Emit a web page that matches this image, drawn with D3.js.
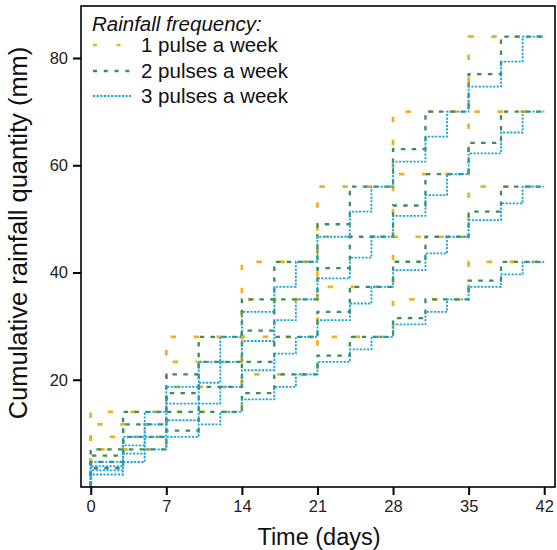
<!DOCTYPE html>
<html><head><meta charset="utf-8">
<script src="https://cdn.jsdelivr.net/npm/d3@7"></script>
<style>body{margin:0;background:#fff}svg{display:block;font-family:"Liberation Sans",Arial,sans-serif}</style>
</head><body><svg id="c" width="557" height="550"></svg>
<script>
// ---- data ----
const totals = [42, 56, 70, 84];
const frequencies = ["1 pulse a week", "2 pulses a week", "3 pulses a week"];
const pulseDays1 = [0, 7, 14, 21, 28, 35];
const pulseDays2 = [0, 3, 7, 10, 14, 17, 21, 24, 28, 31, 35, 38];
const pulseDays3 = [0, 3, 5, 7, 10, 12, 14, 17, 19, 21, 24, 26, 28, 31, 33, 35, 38, 40];
const pulseSize1 = [7, 9.333, 11.667, 14];
const pulseSize2 = [3.5, 4.667, 5.833, 7];
const pulseSize3 = [2.333, 3.111, 3.889, 4.667];
const xTicks = [0, 7, 14, 21, 28, 35, 42];
const yTicks = [20, 40, 60, 80];
const endDay = 42;

// ---- styles ----
const colors = ["#EFB21F", "#3B8E5A", "#1CA4D6"];
const dashes = ["5.5,17.5", "4.5,6.3", "2.2,1.4"];
const widths = [2.7, 2.3, 1.8];

const svg = d3.select("#c");
const box = {l: 81, r: 555, t: 6, b: 487};
const x = d3.scaleLinear().domain([-0.9, 43]).range([box.l, box.r]);
const y = d3.scaleLinear().domain([0, 89.7]).range([box.b, box.t]);

const days = [pulseDays1, pulseDays2, pulseDays3];
const sizes = [pulseSize1, pulseSize2, pulseSize3];
const series = [];
frequencies.forEach((f, i) => {
  totals.forEach((t, j) => {
    const cum = d3.cumsum(days[i].map(() => sizes[i][j]));
    const pts = [[0, 0]].concat(days[i].map((d, k) => [d, cum[k]]));
    pts.push([endDay, cum[cum.length - 1]]);
    series.push({i, pts});
  });
});

const line = d3.line().x(d => x(d[0])).y(d => y(d[1])).curve(d3.curveStepAfter);
svg.append("g").selectAll("path").data(series).join("path")
  .attr("d", d => line(d.pts))
  .attr("fill", "none")
  .attr("stroke", d => colors[d.i])
  .attr("stroke-width", d => widths[d.i])
  .attr("stroke-dasharray", d => dashes[d.i]);

// frame
svg.append("rect").attr("x", box.l).attr("y", box.t)
  .attr("width", box.r - box.l).attr("height", box.b - box.t)
  .attr("fill", "none").attr("stroke", "#000").attr("stroke-width", 1.6);

// axes
const xAxis = svg.append("g").attr("transform", `translate(0,${box.b})`)
  .call(d3.axisBottom(x).tickValues(xTicks).tickSize(8).tickPadding(5).tickSizeOuter(0));
const yAxis = svg.append("g").attr("transform", `translate(${box.l},0)`)
  .call(d3.axisLeft(y).tickValues(yTicks).tickSize(8).tickPadding(5).tickSizeOuter(0));
[xAxis, yAxis].forEach(a => {
  a.select(".domain").remove();
  a.selectAll(".tick line").attr("stroke", "#000").attr("stroke-width", 2);
  a.selectAll(".tick text").attr("fill", "#222").attr("font-size", 16.5)
    .attr("font-family", "Liberation Sans, Arial, sans-serif");
});

// titles
svg.append("text").attr("x", (box.l + box.r) / 2 + 1).attr("y", 545)
  .attr("text-anchor", "middle").attr("font-size", 23.5).attr("fill", "#111")
  .text("Time (days)");
svg.append("text").attr("transform", "translate(27,233) rotate(-90)")
  .attr("text-anchor", "middle").attr("font-size", 25.5).attr("fill", "#111")
  .text("Cumulative rainfall quantity (mm)");

// legend
const lg = svg.append("g");
lg.append("text").attr("x", 92).attr("y", 31).attr("font-size", 20.5)
  .attr("font-style", "italic").attr("fill", "#111").text("Rainfall frequency:");
const legY = [45, 71, 96];
frequencies.forEach((f, i) => {
  lg.append("line").attr("x1", 93).attr("x2", 131).attr("y1", legY[i]).attr("y2", legY[i])
    .attr("stroke", colors[i]).attr("stroke-width", widths[i])
    .attr("stroke-dasharray", i === 0 ? "4,19.5" : i === 1 ? "4,6.8" : dashes[i]);
  lg.append("text").attr("x", 141).attr("y", legY[i] + 7).attr("font-size", 20.5)
    .attr("fill", "#111").text(f);
});
</script></body></html>
